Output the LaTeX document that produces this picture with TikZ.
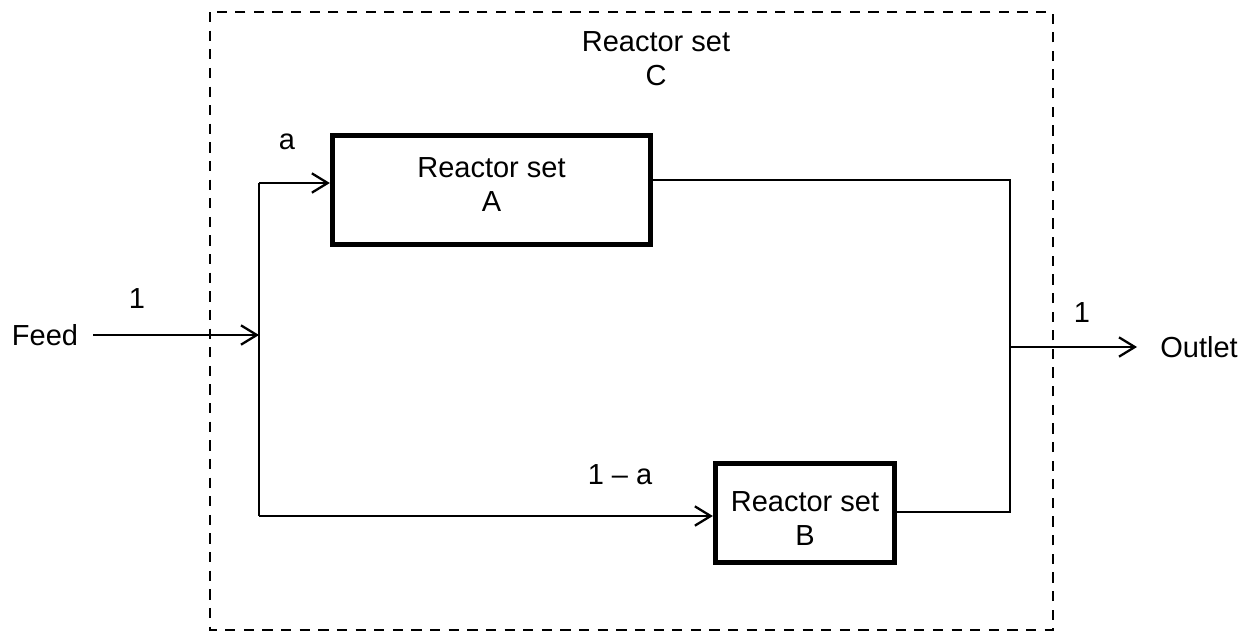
\documentclass[tikz,border=0pt]{standalone}
\usepackage{fontspec}
\setmainfont{Liberation Sans}
\usetikzlibrary{arrows.meta}
\begin{document}
\begin{tikzpicture}[x=0.02cm,y=-0.02cm,
  every node/.style={font=\fontsize{16.5}{19.2}\selectfont},
  lbl/.style={inner sep=0pt, align=center},
  reactor/.style={draw, line width=3pt, inner sep=0pt},
  flow/.style={line width=1.3pt},
  arr/.style={flow, -{Straight Barb[length=9pt,width=11pt,line width=1.3pt]}},
  dashbox/.style={line width=1.6pt, dash pattern=on 5.8pt off 4.8pt}
]
\useasboundingbox (0,0) rectangle (1256,633);
% outer dashed reactor set C
\draw[dashbox] (210,12) rectangle (1053,630);
\node[lbl] (ctext) at (656,59) {Reactor set\\C};
% reactor boxes
\node[reactor, minimum width=318*0.02cm, minimum height=109*0.02cm,
      label={[lbl,yshift=3.2pt]center:Reactor set\\A}] (A) at (491.5,190) {};
\node[reactor, minimum width=179*0.02cm, minimum height=99*0.02cm,
      label={[lbl,yshift=-3pt]center:Reactor set\\B}] (B) at (805,513) {};
% labels
\node[lbl] (feed) at (45,335) {Feed};
\node[lbl] (one_in) at (137,299) {1};
\node[lbl] (alab) at (287,142) {a};
\node[lbl] (blab) at (620,475) {1 -- a};
\node[lbl] (one_out) at (1082,313) {1};
\node[lbl] (outlet) at (1199,347) {Outlet};
% junction coordinates
\coordinate (fin) at (93,335);
\coordinate (split) at (259,335);
\coordinate (topj) at (259,183);
\coordinate (botj) at (259,516);
\coordinate (rtop) at (1010,180);
\coordinate (rbot) at (1010,512);
\coordinate (outj) at (1010,347);
\coordinate (outend) at (1137,347);
% connectors
\draw[arr] (fin) -- (split);
\draw[flow] (topj) -- (botj);
\draw[arr] (topj) -- (topj -| A.west);
\draw[arr] (botj) -- (botj -| B.west);
\draw[flow] (rtop -| A.east) -- (rtop) -- (rbot) -- (rbot -| B.east);
\draw[arr] (outj) -- (outend);
\end{tikzpicture}
\end{document}
